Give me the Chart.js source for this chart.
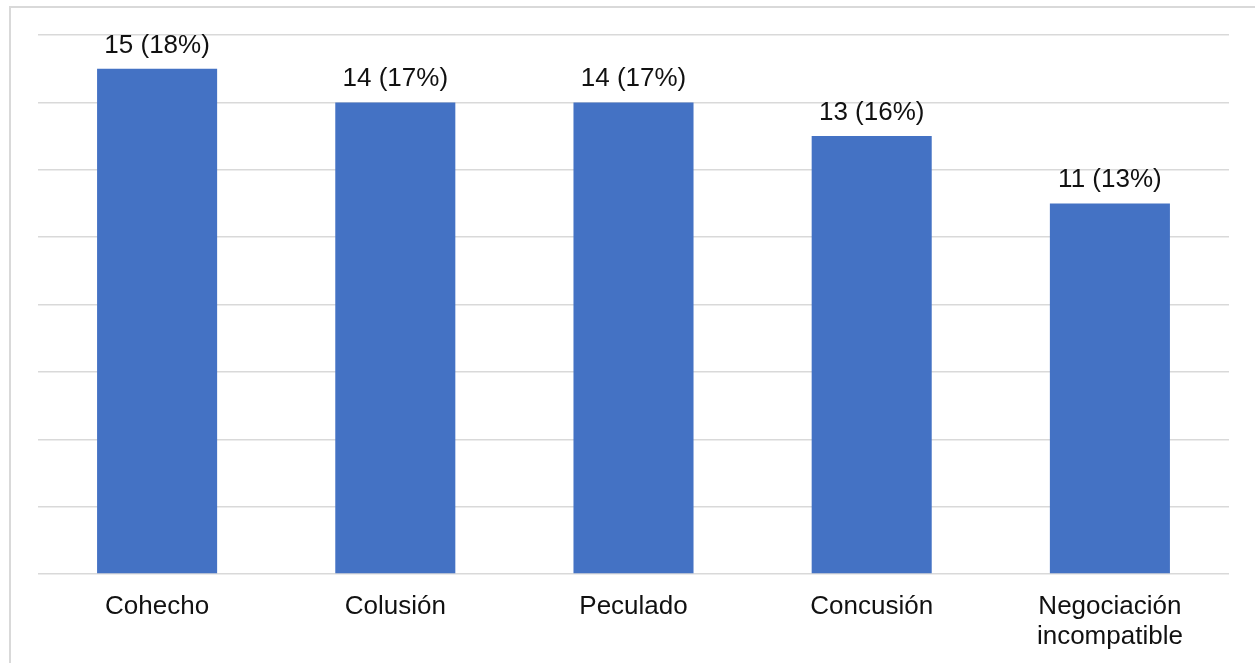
<!DOCTYPE html>
<html>
<head>
<meta charset="utf-8">
<script src="https://cdn.jsdelivr.net/npm/chart.js@4"></script>
<style>
html,body{margin:0;padding:0;background:#fff;}
#wrap{width:1255px;height:663px;position:relative;}
</style>
</head>
<body>
<div id="wrap"><canvas id="c" width="1255" height="663"></canvas></div>
<script>
const categories = ['Cohecho', 'Colusión', 'Peculado', 'Concusión', ['Negociación', 'incompatible']];
const counts = [15, 14, 14, 13, 11];
const percents = [18, 17, 17, 16, 13];
const yMax = 16;
const yStep = 2;

const FONT = '"Liberation Sans", Arial, sans-serif';

const frame = {
  id: 'frame',
  beforeDraw(chart) {
    const ctx = chart.ctx;
    ctx.save();
    ctx.fillStyle = '#fff';
    ctx.fillRect(0, 0, chart.width, chart.height);
    ctx.strokeStyle = '#d9d9d9';
    ctx.lineWidth = 2;
    ctx.strokeRect(10, 7, 3000, 3000);
    ctx.restore();
  }
};

const labels = {
  id: 'labels',
  afterDatasetsDraw(chart) {
    const ctx = chart.ctx;
    const meta = chart.getDatasetMeta(0);
    ctx.save();
    ctx.font = '26px ' + FONT;
    ctx.fillStyle = '#111';
    ctx.textAlign = 'center';
    ctx.textBaseline = 'alphabetic';
    meta.data.forEach((bar, i) => {
      ctx.fillText(counts[i] + ' (' + percents[i] + '%)', bar.x, bar.y - 16);
    });
    ctx.restore();
  }
};

new Chart(document.getElementById('c'), {
  type: 'bar',
  data: {
    labels: categories,
    datasets: [{
      data: counts,
      backgroundColor: '#4472C4',
      barPercentage: 0.504,
      categoryPercentage: 1.0
    }]
  },
  options: {
    responsive: false,
    animation: false,
    devicePixelRatio: 1,
    layout: { padding: { left: 38, right: 26, top: 35, bottom: 0 } },
    plugins: { legend: { display: false }, tooltip: { enabled: false } },
    scales: {
      x: {
        grid: { display: false, drawTicks: false },
        border: { display: false },
        ticks: { color: '#111', font: { family: FONT, size: 26, lineHeight: 1.15 }, padding: 18, maxRotation: 0, autoSkip: false },
        afterFit(s) { s.height = 663 - 574; }
      },
      y: {
        min: 0, max: yMax,
        ticks: { display: false, stepSize: yStep },
        grid: { color: '#d9d9d9', lineWidth: 1.5, drawTicks: false },
        border: { display: false },
        afterFit(s) { s.width = 0; }
      }
    }
  },
  plugins: [frame, labels]
});
</script>
</body>
</html>
